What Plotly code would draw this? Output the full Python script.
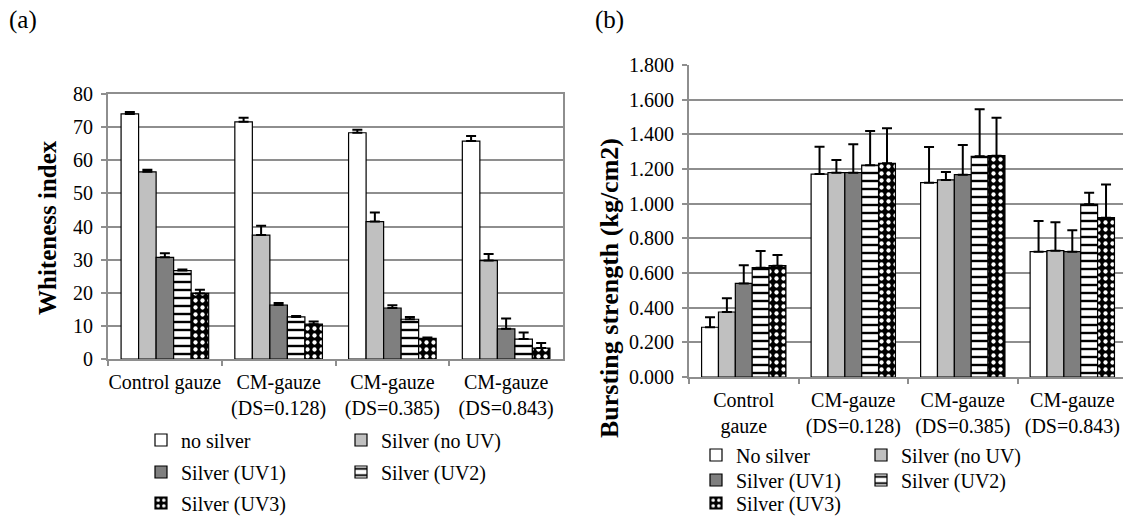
import plotly.graph_objects as go

W, H = 1123, 517

# ---------------- data ----------------
cats_a = ["Control gauze", "CM-gauze<br>(DS=0.128)", "CM-gauze<br>(DS=0.385)", "CM-gauze<br>(DS=0.843)"]
cats_b = ["Control<br>gauze", "CM-gauze<br>(DS=0.128)", "CM-gauze<br>(DS=0.385)", "CM-gauze<br>(DS=0.843)"]

names_a = ["no silver", "Silver (no UV)", "Silver (UV1)", "Silver (UV2)", "Silver (UV3)"]
names_b = ["No silver", "Silver (no UV)", "Silver (UV1)", "Silver (UV2)", "Silver (UV3)"]

wi_no_silver = [74.0, 71.6, 68.3, 65.8]
wi_no_silver_err = [0.6, 1.2, 0.9, 1.5]
wi_no_uv = [56.5, 37.4, 41.5, 29.7]
wi_no_uv_err = [0.6, 2.8, 2.7, 2.0]
wi_uv1 = [30.7, 16.3, 15.4, 9.1]
wi_uv1_err = [1.2, 0.6, 0.8, 3.1]
wi_uv2 = [26.7, 12.7, 12.0, 6.0]
wi_uv2_err = [0.3, 0.3, 0.7, 2.0]
wi_uv3 = [19.8, 10.5, 6.2, 3.3]
wi_uv3_err = [1.1, 0.8, 0.3, 1.5]

bs_no_silver = [0.287, 1.171, 1.121, 0.723]
bs_no_silver_err = [0.057, 0.158, 0.206, 0.177]
bs_no_uv = [0.375, 1.179, 1.137, 0.729]
bs_no_uv_err = [0.080, 0.073, 0.046, 0.164]
bs_uv1 = [0.540, 1.179, 1.167, 0.723]
bs_uv1_err = [0.105, 0.164, 0.172, 0.123]
bs_uv2 = [0.631, 1.222, 1.273, 0.996]
bs_uv2_err = [0.096, 0.197, 0.272, 0.067]
bs_uv3 = [0.642, 1.233, 1.277, 0.919]
bs_uv3_err = [0.062, 0.202, 0.219, 0.191]

wi_vals = [wi_no_silver, wi_no_uv, wi_uv1, wi_uv2, wi_uv3]
wi_errs = [wi_no_silver_err, wi_no_uv_err, wi_uv1_err, wi_uv2_err, wi_uv3_err]
bs_vals = [bs_no_silver, bs_no_uv, bs_uv1, bs_uv2, bs_uv3]
bs_errs = [bs_no_silver_err, bs_no_uv_err, bs_uv1_err, bs_uv2_err, bs_uv3_err]

# ---------------- styles ----------------
FONT = "Liberation Serif"
GRID = "#8e8e8e"

def marker_style(i):
    line = dict(color="black", width=1.2)
    if i == 0:
        return dict(color="white", line=line)
    if i == 1:
        return dict(color="#c0c0c0", line=line)
    if i == 2:
        return dict(color="#7f7f7f", line=line)
    if i == 3:
        return dict(color="white", line=line,
                    pattern=dict(shape="-", fgcolor="black", bgcolor="white",
                                 size=8, solidity=0.3, fillmode="replace"))
    return dict(color="black", line=line,
                pattern=dict(shape=".", fgcolor="white", bgcolor="black",
                             size=7, solidity=0.3, fillmode="replace"))

fig = go.Figure()

def px_x(x):
    return x / W

def px_y(y):
    return 1 - y / H

# legend slots (left of legend box, row centre) in pixels
leg_a = [(141, 440), (341, 440), (141, 472), (341, 472), (141, 503)]
leg_b = [(696, 455), (861, 455), (696, 480), (861, 480), (696, 503)]

legend_layout = {}
for i in range(5):
    key = "legend" if i == 0 else f"legend{i + 1}"
    fig.add_trace(go.Bar(
        x=cats_a, y=wi_vals[i], name=names_a[i], marker=marker_style(i),
        error_y=dict(type="data", array=wi_errs[i], arrayminus=[0] * 4, symmetric=False,
                     color="black", thickness=2, width=5),
        xaxis="x", yaxis="y", legend=key, offsetgroup=str(i), showlegend=True,
    ))
    lx, ly = leg_a[i]
    legend_layout[key] = dict(x=px_x(lx), y=px_y(ly), xanchor="left", yanchor="middle",
                              font=dict(family=FONT, size=20, color="black"),
                              bgcolor="rgba(0,0,0,0)", borderwidth=0, visible=True)

for i in range(5):
    key = f"legend{i + 6}"
    fig.add_trace(go.Bar(
        x=cats_b, y=bs_vals[i], name=names_b[i], marker=marker_style(i),
        error_y=dict(type="data", array=bs_errs[i], arrayminus=[0] * 4, symmetric=False,
                     color="black", thickness=2, width=5),
        xaxis="x2", yaxis="y2", legend=key, offsetgroup=str(i), showlegend=True,
    ))
    lx, ly = leg_b[i]
    legend_layout[key] = dict(x=px_x(lx), y=px_y(ly), xanchor="left", yanchor="middle",
                              font=dict(family=FONT, size=20, color="black"),
                              bgcolor="rgba(0,0,0,0)", borderwidth=0, visible=True)

axis_common = dict(showline=True, linecolor=GRID, linewidth=2,
                   tickfont=dict(family=FONT, size=20, color="black"),
                   ticks="outside", ticklen=5, tickwidth=2, tickcolor=GRID,
                   ticklabelstandoff=4)

fig.update_layout(
    width=W, height=H,
    margin=dict(l=0, r=0, t=0, b=0, autoexpand=False),
    showlegend=True,
    paper_bgcolor="white", plot_bgcolor="white",
    barmode="group", bargap=0.23, bargroupgap=0,
    font=dict(family=FONT, size=20, color="black"),
    xaxis=dict(domain=[px_x(108), px_x(563)], anchor="y", type="category", tickangle=0,
               range=[-0.5, 3.5], tickson="boundaries", mirror=True, **axis_common),
    yaxis=dict(domain=[px_y(359), px_y(94)], anchor="x", range=[0, 80], dtick=10,
               showgrid=True, gridcolor=GRID, gridwidth=2, mirror=True, zeroline=False,
               **axis_common),
    xaxis2=dict(domain=[px_x(689), 1.0], anchor="y2", type="category", tickangle=0,
                range=[-0.5, 3.463], tickson="boundaries", **axis_common),
    yaxis2=dict(domain=[px_y(377), px_y(65)], anchor="x2", range=[0, 1.8], dtick=0.2,
                tickformat=".3f", showgrid=True, gridcolor=GRID, gridwidth=2,
                zeroline=False, **axis_common),
    **legend_layout,
)

def ann(x, y, text, size, angle=0):
    fig.add_annotation(x=px_x(x), y=px_y(y), xref="paper", yref="paper", text=text,
                       xanchor="center", yanchor="middle", textangle=angle,
                       showarrow=False, font=dict(family=FONT, size=size, color="black"))

ann(23, 20, "(a)", 25)
ann(609, 20, "(b)", 25)
ann(47, 228, "<b>Whiteness index</b>", 25, -90)
ann(609, 288, "<b>Bursting strength (kg/cm2)</b>", 26, -90)

fig.write_html("out.html")
